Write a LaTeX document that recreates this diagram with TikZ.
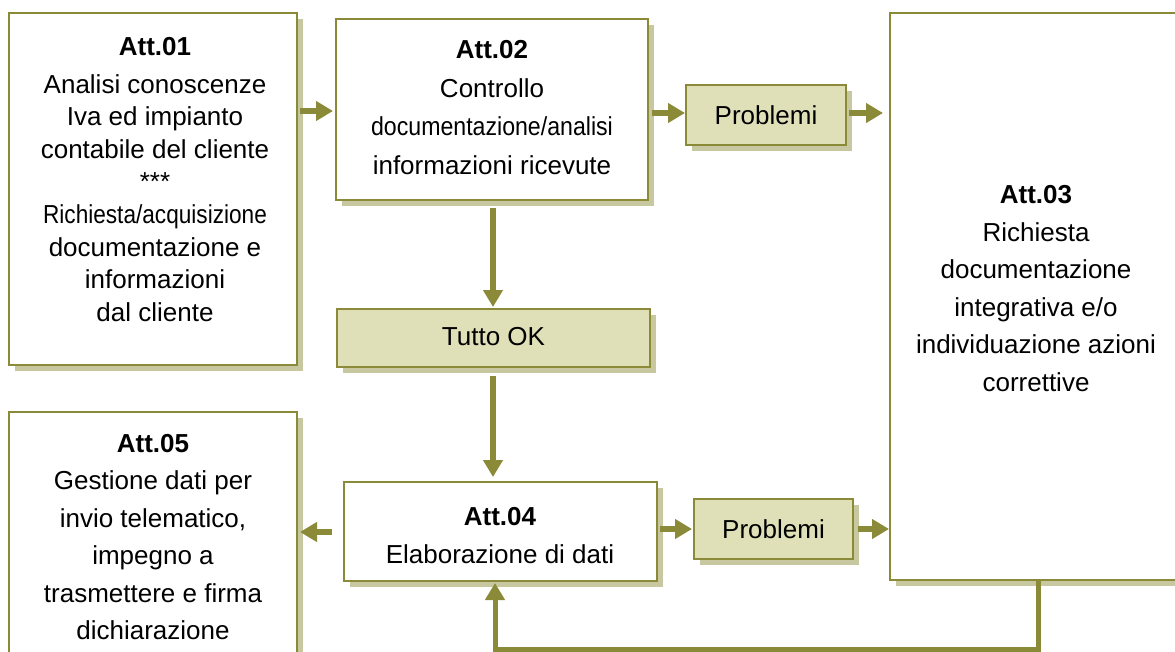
\documentclass[tikz,border=0pt]{standalone}
\usepackage{fontspec}
\setmainfont{Liberation Sans}
\usepackage{graphicx}
\usetikzlibrary{arrows.meta,shadows}
\definecolor{oliveline}{RGB}{138,138,56}
\definecolor{olivefill}{RGB}{224,224,184}
\definecolor{oliveshadow}{RGB}{200,200,160}
\begin{document}
\begin{tikzpicture}[x=1pt,y=-1pt,
  box/.style={draw=oliveline, line width=2pt, fill=white, rectangle, inner sep=0pt, outer sep=0pt,
    general shadow={fill=oliveshadow, shadow xshift=6pt, shadow yshift=-6pt}},
  tagbox/.style={box, fill=olivefill, font=\fontsize{26}{32}\selectfont},
  txt/.style={align=center, inner sep=0pt, font=\fontsize{26}{37.5}\selectfont},
  arr/.style={draw=oliveline, line width=6.5pt, -{Triangle[length=17pt,width=19pt]}},
  fb/.style={draw=oliveline, line width=5pt, line join=miter, -{Triangle[length=17pt,width=19pt]}},
]
\clip (0,0) rectangle (1175,651);
\fill[white] (0,0) rectangle (1175,651);

% boxes
\node[box, minimum width=288pt, minimum height=352pt] (a1) at (153,189) {};
\node[box, minimum width=312pt, minimum height=181pt] (a2) at (492,109.5) {};
\node[box, minimum width=293pt, minimum height=567pt] (a3) at (1036.5,296.5) {};
\node[box, minimum width=313pt, minimum height=99pt] (a4) at (500.5,531.5) {};
\node[box, minimum width=288pt, minimum height=288pt] (a5) at (153,556) {};
\node[tagbox, minimum width=160pt, minimum height=60pt] (p1) at (766,115) {Problemi};
\node[tagbox, minimum width=159pt, minimum height=60pt] (p2) at (773.5,529) {Problemi};
\node[tagbox, minimum width=313pt, minimum height=58pt] (ok) at (493.5,338) {\raisebox{2.5pt}{Tutto OK}};

% texts
\node[txt, font=\fontsize{26}{32.6}\selectfont] (t1) at (155,179.5)
  {\textbf{Att.01}\\[4.9pt]Analisi conoscenze\\Iva ed impianto\\contabile del cliente\\***\\
   \scalebox{0.87}[1]{Richiesta/acquisizione}\\documentazione e\\informazioni\\dal cliente};
\node[txt, font=\fontsize{26}{38.4}\selectfont] (t2) at (492,107.5)
  {\textbf{Att.02}\\Controllo\\\scalebox{0.89}[1]{documentazione/analisi}\\informazioni ricevute};
\node[txt] (t3) at (1036,288.5)
  {\textbf{Att.03}\\Richiesta\\documentazione\\integrativa e/o\\individuazione azioni\\correttive};
\node[txt] (t4) at (500,535.5)
  {\textbf{Att.04}\\Elaborazione di dati};
\node[txt] (t5) at (153,537)
  {\textbf{Att.05}\\Gestione dati per\\invio telematico,\\impegno a\\trasmettere e firma\\dichiarazione};

% row / column helpers
\coordinate (r1) at (0,111);
\coordinate (r2) at (0,113);
\coordinate (r3) at (0,529);
\coordinate (r4) at (0,532);
\coordinate (c1) at (493,0);
\coordinate (fbr) at (1038,649);
\coordinate (fbl) at (495,649);

% connectors
\draw[arr] ([xshift=3pt]a1.east |- r1) -- ([xshift=-3pt]a2.west |- r1);
\draw[arr] ([xshift=4pt]a2.east |- r2) -- ([xshift=-1pt]p1.west |- r2);
\draw[arr] ([xshift=3pt]p1.east |- r2) -- ([xshift=-7pt]a3.west |- r2);
\draw[arr] ([yshift=-8pt]a2.south -| c1) -- ([yshift=2pt]ok.north -| c1);
\draw[arr] ([yshift=-9pt]ok.south -| c1) -- ([yshift=5pt]a4.north -| c1);
\draw[arr] ([xshift=3pt]a4.east |- r3) -- ([xshift=-2pt]p2.west |- r3);
\draw[arr] ([xshift=5pt]p2.east |- r3) -- ([xshift=-1pt]a3.west |- r3);
\draw[arr] ([xshift=-12pt]a4.west |- r4) -- ([xshift=3pt]a5.east |- r4);
\draw[fb] (a3.south -| fbr) -- (fbr) -- (fbl) -- ([yshift=-2pt]a4.south -| fbl);
\end{tikzpicture}
\end{document}
